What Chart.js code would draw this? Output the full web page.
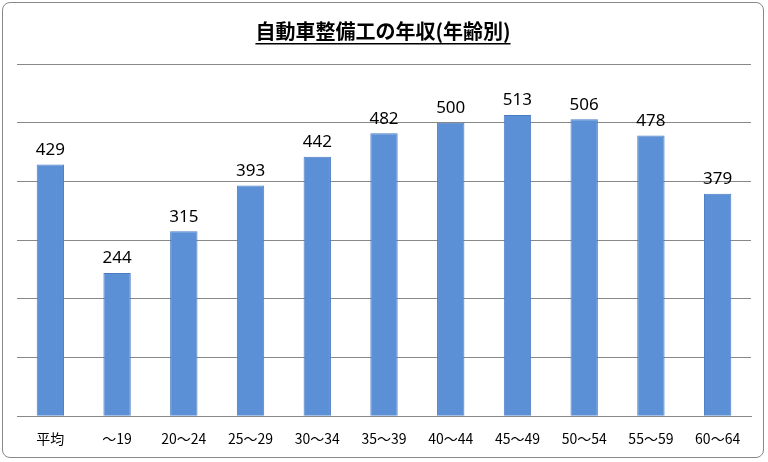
<!DOCTYPE html>
<html>
<head>
<meta charset="utf-8">
<script src="https://cdn.jsdelivr.net/npm/chart.js@4"></script>
<style>
  body { margin: 0; background: #fff; }
  #wrap { position: absolute; left: 2px; top: 2px; width: 762px; height: 456px; border: 1px solid #888; border-radius: 8px; box-sizing: border-box; }
  canvas { display: block; }
</style>
</head>
<body>
<div id="wrap"><canvas id="chart" width="760" height="454"></canvas></div>
<script>
const categories = ['平均', '〜19', '20〜24', '25〜29', '30〜34', '35〜39', '40〜44', '45〜49', '50〜54', '55〜59', '60〜64'];
const incomes = [429, 244, 315, 393, 442, 482, 500, 513, 506, 478, 379];
const titleText = '自動車整備工の年収(年齢別)';

// value labels above each bar
const valueLabels = {
  id: 'valueLabels',
  afterDatasetsDraw(chart) {
    const ctx = chart.ctx;
    const meta = chart.getDatasetMeta(0);
    ctx.save();
    ctx.font = '17px "Noto Sans", sans-serif';
    ctx.fillStyle = '#000';
    ctx.textAlign = 'center';
    ctx.textBaseline = 'bottom';
    meta.data.forEach((bar, i) => {
      ctx.fillText(incomes[i], bar.x, bar.y - 6);
    });
    ctx.restore();
  }
};

// title with underline
const underlineTitle = {
  id: 'underlineTitle',
  afterDraw(chart) {
    const ctx = chart.ctx;
    ctx.save();
    ctx.font = 'bold 20px "Noto Sans CJK JP", sans-serif';
    ctx.fillStyle = '#000';
    ctx.textAlign = 'center';
    ctx.textBaseline = 'alphabetic';
    const cx = chart.width / 2;
    ctx.fillText(titleText, cx, 36);
    const w = ctx.measureText(titleText).width;
    ctx.fillRect(cx - w / 2, 40, w, 1.5);
    ctx.restore();
  }
};

new Chart(document.getElementById('chart'), {
  type: 'bar',
  data: {
    labels: categories,
    datasets: [{
      data: incomes,
      backgroundColor: '#5b8fd6',
      borderColor: '#4a7cc4',
      borderWidth: 1,
      categoryPercentage: 1,
      barPercentage: 0.41,
    }],
  },
  options: {
    responsive: false,
    animation: false,
    layout: { padding: { left: 14, right: 12, top: 61, bottom: 4 } },
    plugins: { legend: { display: false }, tooltip: { enabled: false } },
    scales: {
      y: {
        min: 0,
        max: 600,
        ticks: { stepSize: 100, display: false },
        grid: { color: '#888', drawTicks: false },
        border: { display: false },
      },
      x: {
        grid: { display: false },
        border: { color: '#888' },
        ticks: { color: '#000', maxRotation: 0, autoSkip: false, font: { size: 14, family: '"Noto Sans CJK JP", sans-serif' }, padding: 6 },
      },
    },
  },
  plugins: [valueLabels, underlineTitle],
});
</script>
</body>
</html>
